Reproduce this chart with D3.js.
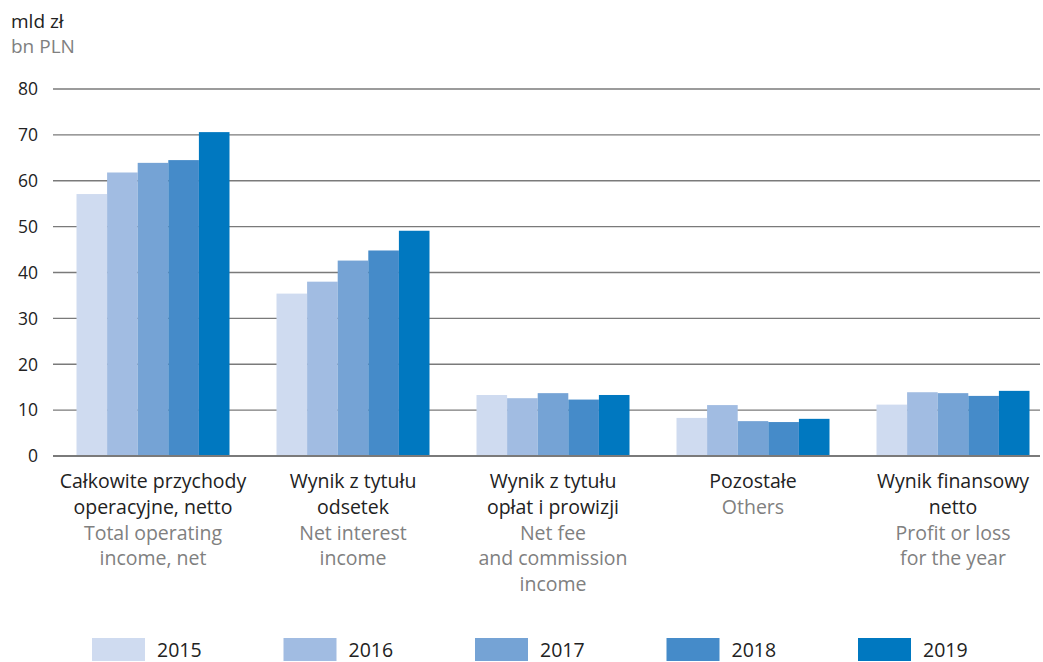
<!DOCTYPE html>
<html><head><meta charset="utf-8">
<script src="https://cdn.jsdelivr.net/npm/d3@7"></script>
<style>body{margin:0;background:#fff}svg{display:block}text{font-family:"Open Sans",sans-serif}</style>
</head><body><svg id="c" width="1043" height="662"></svg>
<script>
const categories = ["g1","g2","g3","g4","g5"];
const labelsPL = [["Całkowite przychody","operacyjne, netto"],["Wynik z tytułu","odsetek"],["Wynik z tytułu","opłat i prowizji"],["Pozostałe"],["Wynik finansowy","netto"]];
const labelsEN = [["Total operating","income, net"],["Net interest","income"],["Net fee","and commission","income"],["Others"],["Profit or loss","for the year"]];
const years = ["2015","2016","2017","2018","2019"];
const v2015 = [57.1, 35.4, 13.3, 8.3, 11.2];
const v2016 = [61.8, 38.0, 12.6, 11.1, 13.9];
const v2017 = [63.9, 42.6, 13.7, 7.6, 13.7];
const v2018 = [64.5, 44.8, 12.3, 7.4, 13.1];
const v2019 = [70.6, 49.1, 13.3, 8.1, 14.2];
const yTicks = [0,10,20,30,40,50,60,70,80];
const colors = ["#cfdbf0","#a1bce2","#75a3d5","#458bc9","#0078c0"];
const series = [v2015,v2016,v2017,v2018,v2019];

const svg = d3.select("#c");
const x0 = d3.scaleBand().domain(categories).range([53,1053]).paddingInner(0.235).paddingOuter(0.1175);
const x1 = d3.scaleBand().domain(years).range([0,x0.bandwidth()]);
const y = d3.scaleLinear().domain([0,80]).range([456,89]);

svg.append("g").selectAll("line").data(yTicks.filter(d=>d>0)).join("line")
  .attr("x1",53).attr("x2",1040).attr("y1",d=>y(d)).attr("y2",d=>y(d))
  .attr("stroke","#7a7a7a").attr("stroke-width",1.3);
svg.append("g").selectAll("text").data(yTicks).join("text")
  .attr("x",38).attr("y",d=>y(d)).attr("dy","0.36em").attr("text-anchor","end")
  .attr("font-size",17.5).attr("fill","#222").text(d=>d);

const g = svg.append("g").selectAll("g").data(categories).join("g")
  .attr("transform",d=>`translate(${x0(d)},0)`);
g.selectAll("rect").data((d,i)=>years.map((yr,j)=>({yr,v:series[j][i],j}))).join("rect")
  .attr("x",d=>x1(d.yr)).attr("width",x1.bandwidth())
  .attr("y",d=>y(d.v)).attr("height",d=>y(0)-y(d.v))
  .attr("fill",d=>colors[d.j]);

svg.append("line").attr("x1",53).attr("x2",1040).attr("y1",y(0)).attr("y2",y(0))
  .attr("stroke","#7a7a7a").attr("stroke-width",2);

svg.append("text").attr("x",11).attr("y",28).attr("font-size",19).attr("fill","#222").text("mld zł");
svg.append("text").attr("x",11).attr("y",53).attr("font-size",19).attr("fill","#808080").text("bn PLN");

categories.forEach((c,i)=>{
  const cx = x0(c)+x0.bandwidth()/2;
  const lines = labelsPL[i].map(t=>({t,col:"#222"})).concat(labelsEN[i].map(t=>({t,col:"#808080"})));
  lines.forEach((l,k)=>{
    svg.append("text").attr("x",cx).attr("y",488+k*25.8).attr("text-anchor","middle")
      .attr("font-size",19.5).attr("fill",l.col).text(l.t);
  });
});

const lg = svg.append("g").selectAll("g").data(years).join("g")
  .attr("transform",(d,i)=>`translate(${92+i*191.5},638)`);
lg.append("rect").attr("width",53).attr("height",23).attr("fill",(d,i)=>colors[i]);
lg.append("text").attr("x",65).attr("y",19).attr("font-size",19.5).attr("fill","#222").text(d=>d);
</script></body></html>
